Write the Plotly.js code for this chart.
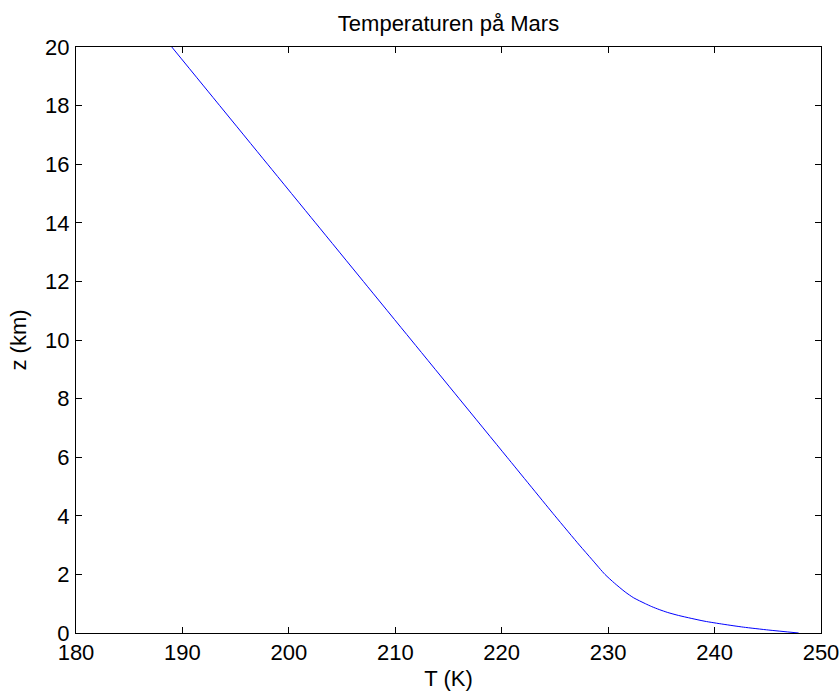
<!DOCTYPE html>
<html>
<head>
<meta charset="utf-8">
<script src="https://cdn.plot.ly/plotly-3.0.1.min.js"></script>
<style>html,body{margin:0;padding:0;background:#fff;}#chart{width:840px;height:692px;}</style>
</head>
<body>
<div id="chart"></div>
<script>
// Altitude z (km) and temperature T (K)
const altitudeKm = [0, 0.1, 0.2, 0.3, 0.4, 0.5, 0.6, 0.7, 0.8, 0.9, 1.0, 1.2, 1.4, 1.7, 2.0, 2.5, 3, 4, 6, 8, 10, 12, 14, 16, 18, 20];
const temperatureK = [247.9, 245.1, 242.7, 240.8, 239.1, 237.8, 236.6, 235.6, 234.8, 234.1, 233.5, 232.4, 231.6, 230.6, 229.7, 228.5, 227.3, 225.0, 220.5, 216.0, 211.5, 207.0, 202.5, 198.0, 193.5, 189.0];
const xTicks = [180, 190, 200, 210, 220, 230, 240, 250];
const yTicks = [0, 2, 4, 6, 8, 10, 12, 14, 16, 18, 20];
const chartTitle = 'Temperaturen på Mars';
const xLabel = 'T (K)';
const yLabel = 'z (km)';

const FONT = 'Liberation Sans, Arial, sans-serif';
const FS = 22;

const trace = {
  x: temperatureK,
  y: altitudeKm,
  type: 'scatter',
  mode: 'lines',
  line: {color: '#0000ff', width: 1, shape: 'spline', smoothing: 0.6},
  hoverinfo: 'skip'
};

const axisCommon = {
  showgrid: false,
  zeroline: false,
  showline: true,
  linecolor: '#000',
  linewidth: 1,
  mirror: 'ticks',
  ticks: 'inside',
  ticklen: 6,
  tickwidth: 1,
  tickcolor: '#000',
  tickfont: {family: FONT, size: FS, color: '#000'},
  automargin: false,
  tickmode: 'array'
};

const layout = {
  width: 840,
  height: 692,
  paper_bgcolor: '#fff',
  plot_bgcolor: '#fff',
  showlegend: false,
  margin: {l: 76, r: 19, t: 47, b: 59, pad: 0},
  font: {family: FONT, size: FS, color: '#000'},
  title: {
    text: chartTitle,
    font: {family: FONT, size: FS, color: '#000'},
    x: 0.5, xref: 'paper', xanchor: 'center',
    y: 1 - 23 / 692, yref: 'container', yanchor: 'middle'
  },
  xaxis: Object.assign({}, axisCommon, {
    range: [180, 250],
    tickvals: xTicks,
    ticktext: xTicks.map(String),
    title: {text: xLabel, font: {family: FONT, size: FS, color: '#000'}, standoff: 6}
  }),
  yaxis: Object.assign({}, axisCommon, {
    range: [0, 20],
    tickvals: yTicks,
    ticktext: yTicks.map(String),
    ticklabelstandoff: 1,
    title: {text: yLabel, font: {family: FONT, size: FS, color: '#000'}, standoff: 12}
  })
};

Plotly.newPlot('chart', [trace], layout, {displayModeBar: false, staticPlot: true});
</script>
</body>
</html>
